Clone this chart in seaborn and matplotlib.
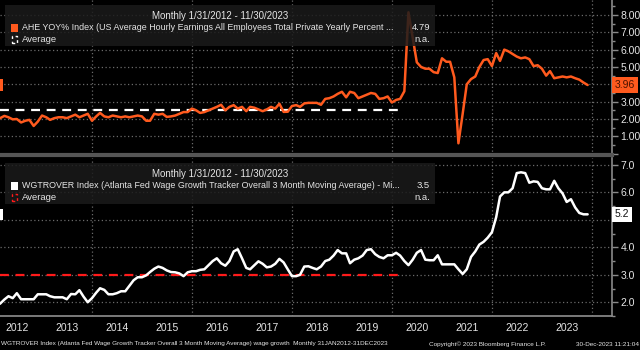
import numpy as np
import pandas as pd
import matplotlib
matplotlib.use("Agg")
import matplotlib.pyplot as plt
import matplotlib.dates as mdates
from matplotlib.patches import Rectangle
import seaborn as sns

# ---------------- data ----------------
ahe_2012 = [2.0, 2.05, 2.18, 2.1, 1.98, 2.0, 1.8, 1.9, 1.95, 1.6, 1.85, 2.2]
ahe_2013 = [2.1, 1.95, 2.05, 2.1, 2.1, 2.05, 2.15, 2.25, 2.1, 2.2, 2.3, 1.9]
ahe_2014 = [2.15, 2.35, 2.15, 2.1, 2.2, 2.15, 2.1, 2.15, 2.1, 2.15, 2.2, 2.15]
ahe_2015 = [1.9, 1.9, 2.3, 2.25, 2.3, 2.12, 2.15, 2.2, 2.3, 2.4, 2.4, 2.6]
ahe_2016 = [2.5, 2.35, 2.4, 2.5, 2.6, 2.7, 2.82, 2.5, 2.7, 2.8, 2.6, 2.7]
ahe_2017 = [2.45, 2.7, 2.65, 2.55, 2.45, 2.55, 2.7, 2.6, 2.88, 2.41, 2.42, 2.75]
ahe_2018 = [2.8, 2.7, 2.9, 2.93, 2.93, 2.93, 2.82, 3.16, 3.2, 3.3, 3.45, 3.57]
ahe_2019 = [3.25, 3.57, 3.5, 3.2, 3.3, 3.4, 3.5, 3.45, 3.16, 3.2, 3.3, 2.95]
ahe_2020 = [3.1, 3.16, 3.6, 8.15, 6.7, 5.27, 5.0, 4.9, 4.9, 4.7, 4.65, 5.5]
ahe_2021 = [5.3, 5.3, 4.4, 0.6, 2.3, 4.0, 4.3, 4.45, 5.0, 5.4, 5.45, 5.05]
ahe_2022 = [5.8, 5.35, 6.0, 5.9, 5.75, 5.6, 5.5, 5.55, 5.45, 5.05, 5.1, 4.9]
ahe_2023 = [4.5, 4.76, 4.35, 4.4, 4.45, 4.4, 4.45, 4.35, 4.27, 4.1, 3.96]

wgt_2012 = [1.9, 1.95, 2.1, 2.22, 2.15, 2.33, 2.11, 2.11, 2.11, 2.11, 2.29, 2.29]
wgt_2013 = [2.29, 2.22, 2.18, 2.18, 2.18, 2.11, 2.3, 2.29, 2.44, 2.2, 2.0, 2.15]
wgt_2014 = [2.35, 2.51, 2.45, 2.29, 2.29, 2.33, 2.4, 2.4, 2.6, 2.8, 2.91, 2.91]
wgt_2015 = [2.98, 3.1, 3.22, 3.3, 3.25, 3.16, 3.1, 3.09, 3.05, 2.95, 3.09, 3.13]
wgt_2016 = [3.13, 3.18, 3.2, 3.35, 3.5, 3.6, 3.42, 3.33, 3.5, 3.85, 3.93, 3.6]
wgt_2017 = [3.25, 3.2, 3.35, 3.49, 3.4, 3.27, 3.3, 3.4, 3.58, 3.45, 3.2, 2.95]
wgt_2018 = [2.95, 3.0, 3.3, 3.31, 3.25, 3.2, 3.3, 3.5, 3.55, 3.7, 3.9, 3.78]
wgt_2019 = [3.78, 3.42, 3.55, 3.6, 3.7, 3.9, 3.93, 3.75, 3.65, 3.6, 3.71, 3.71]
wgt_2020 = [3.8, 3.7, 3.5, 3.35, 3.55, 3.8, 3.9, 3.55, 3.53, 3.53, 3.71, 3.38]
wgt_2021 = [3.38, 3.38, 3.38, 3.2, 3.03, 3.2, 3.65, 3.85, 4.1, 4.2, 4.35, 4.55]
wgt_2022 = [5.1, 5.85, 6.0, 6.0, 6.15, 6.7, 6.73, 6.7, 6.35, 6.4, 6.38, 6.15]
wgt_2023 = [6.11, 6.11, 6.42, 6.15, 5.96, 5.65, 5.75, 5.45, 5.25, 5.2, 5.2]

ahe = sum([ahe_2012, ahe_2013, ahe_2014, ahe_2015, ahe_2016, ahe_2017,
           ahe_2018, ahe_2019, ahe_2020, ahe_2021, ahe_2022, ahe_2023], [])
wgt = sum([wgt_2012, wgt_2013, wgt_2014, wgt_2015, wgt_2016, wgt_2017,
           wgt_2018, wgt_2019, wgt_2020, wgt_2021, wgt_2022, wgt_2023], [])
dates = pd.date_range("2012-01-31", periods=len(ahe), freq="ME")

ahe_avg = 2.53
wgt_avg = 3.0
avg_end = pd.Timestamp("2020-02-29")

# tick labels hidden behind the last-value tags are left blank
ahe_ticks = [0, 1, 2, 3, 4, 5, 6, 7, 8]
ahe_ticklabels = ["", "1.00", "2.00", "3.00", "", "5.00", "6.00", "7.00", "8.00"]
wgt_ticks = [2, 3, 4, 5, 6, 7]
wgt_ticklabels = ["2.0", "3.0", "4.0", "", "6.0", "7.0"]

title_txt = "Monthly 1/31/2012 - 11/30/2023"
ahe_label = "AHE YOY% Index (US Average Hourly Earnings All Employees Total Private Yearly Percent ..."
ahe_value = "4.79"
wgt_label = "WGTROVER Index (Atlanta Fed Wage Growth Tracker Overall 3 Month Moving Average) - Mi..."
wgt_value = "3.5"
footer_left = "WGTROVER Index (Atlanta Fed Wage Growth Tracker Overall 3 Month Moving Average) wage growth  Monthly 31JAN2012-31DEC2023"
footer_mid = "Copyright\u00a9 2023 Bloomberg Finance L.P."
footer_right = "30-Dec-2023 11:21:04"

df = pd.DataFrame({"date": dates, "ahe": ahe, "wgt": wgt})

# ---------------- style ----------------
sns.set_theme(style="dark")
plt.rcParams["font.family"] = ["Liberation Sans", "DejaVu Sans"]
ORANGE = "#ff5a1e"
GRID = "#6a6a6a"
TXT = "#e6e6e6"
SPINE = "#8a8a8a"

W, H = 640, 350
fig = plt.figure(figsize=(6.4, 3.5), dpi=100, facecolor="black")

def fx(x):
    return x / W

def fy(y):
    return 1 - y / H

ax1 = fig.add_axes([0, fy(155), fx(612), 155 / H])
ax2 = fig.add_axes([0, fy(316), fx(612), 158 / H])

xmin = pd.Timestamp("2012-02-28")
xmax = pd.Timestamp("2024-05-26")

for ax in (ax1, ax2):
    ax.set_facecolor("black")
    ax.set_xlim(xmin, xmax)
    ax.yaxis.tick_right()
    ax.tick_params(axis="y", colors=SPINE, labelcolor=TXT, labelsize=7.5,
                   length=4, width=1, pad=2, direction="out")
    ax.tick_params(axis="y", which="minor", length=2.5, width=1, colors=SPINE)
    ax.yaxis.set_minor_locator(matplotlib.ticker.MultipleLocator(0.5))
    for s in ("top", "left"):
        ax.spines[s].set_visible(False)
    ax.spines["right"].set_color(SPINE)
    ax.spines["bottom"].set_color(SPINE)
    ax.spines["right"].set_linewidth(1.2)
    ax.grid(False)
    for yr in range(2014, 2025, 2):
        ax.axvline(pd.Timestamp(f"{yr}-01-01"), color=GRID, ls=(0, (1, 2)), lw=0.9, zorder=0)

# top panel
ax1.set_ylim(-0.075, 8.86)
ax1.set_yticks(ahe_ticks)
ax1.set_yticklabels(ahe_ticklabels)
for t in ahe_ticks[1:]:
    ax1.axhline(t, color=GRID, ls=(0, (1, 2)), lw=0.9, zorder=0)
ax1.tick_params(axis="x", which="both", bottom=False, labelbottom=False)
ax1.spines["bottom"].set_linewidth(3)
ax1.spines["bottom"].set_color("#555555")
sns.lineplot(data=df, x="date", y="ahe", ax=ax1, color=ORANGE, lw=1.8, zorder=3)
ax1.plot([xmin, avg_end], [ahe_avg, ahe_avg], color="white", lw=1.6,
         ls=(0, (4, 3)), zorder=2)
ax1.set_xlabel("")
ax1.set_ylabel("")

# bottom panel
ax2.set_ylim(1.50, 7.25)
ax2.set_yticks(wgt_ticks)
ax2.set_yticklabels(wgt_ticklabels)
for t in wgt_ticks:
    ax2.axhline(t, color=GRID, ls=(0, (1, 2)), lw=0.9, zorder=0)
sns.lineplot(data=df, x="date", y="wgt", ax=ax2, color="white", lw=1.8, zorder=3)
ax2.plot([xmin, avg_end], [wgt_avg, wgt_avg], color="#ff1a1a", lw=1.6,
         ls=(0, (4, 3)), zorder=2)
ax2.set_xlabel("")
ax2.set_ylabel("")
ax2.xaxis.set_major_locator(mdates.YearLocator())
ax2.xaxis.set_major_formatter(matplotlib.ticker.NullFormatter())
ax2.xaxis.set_minor_locator(mdates.MonthLocator(bymonth=7, bymonthday=1))
ax2.xaxis.set_minor_formatter(mdates.DateFormatter("%Y"))
ax2.tick_params(axis="x", which="major", length=15, width=1, colors=SPINE, direction="out")
ax2.tick_params(axis="x", which="minor", length=0, labelcolor=TXT, labelsize=7.5, pad=5)

# last-value tags
ax1.annotate(f"{ahe[-1]:.2f}", xy=(1.005, ahe[-1]), xycoords=ax1.get_yaxis_transform(),
             ha="left", va="center", fontsize=7.5, color="#4a1200", annotation_clip=False,
             bbox=dict(boxstyle="square,pad=0.25", fc=ORANGE, ec="none"), zorder=10)
ax2.annotate(f"{wgt[-1]:.1f}", xy=(1.005, wgt[-1]), xycoords=ax2.get_yaxis_transform(),
             ha="left", va="center", fontsize=7.5, color="#111111", annotation_clip=False,
             bbox=dict(boxstyle="square,pad=0.25", fc="white", ec="none"), zorder=10)
ax1.add_patch(Rectangle((0, ahe[-1] - 0.35), 0.005, 0.7, transform=ax1.get_yaxis_transform(),
                        fc=ORANGE, ec="none", clip_on=False, zorder=5))
ax2.add_patch(Rectangle((0, wgt[-1] - 0.2), 0.005, 0.4, transform=ax2.get_yaxis_transform(),
                        fc="white", ec="none", clip_on=False, zorder=5))

# legend boxes
def legend_box(top, color, avg_color, label, value):
    fig.add_artist(Rectangle((fx(5), fy(top + 41)), fx(430), 41 / H, transform=fig.transFigure,
                             fc="#1b1b1b", ec="none", alpha=0.85, zorder=5))
    fig.text(fx(220), fy(top + 11), title_txt, ha="center", va="center",
             color=TXT, fontsize=7, zorder=6)
    fig.add_artist(Rectangle((fx(11), fy(top + 27)), fx(7), 8 / H, transform=fig.transFigure,
                             fc=color, ec="none", zorder=6))
    fig.text(fx(22), fy(top + 22.5), label, ha="left", va="center", color=TXT,
             fontsize=6.4, zorder=6)
    fig.text(fx(430), fy(top + 22.5), value, ha="right", va="center", color=TXT,
             fontsize=6.8, zorder=6)
    fig.add_artist(Rectangle((fx(12), fy(top + 38)), fx(5), 7 / H, transform=fig.transFigure,
                             fc="none", ec=avg_color, lw=1, ls=(0, (2, 2)), zorder=6))
    fig.text(fx(22), fy(top + 34), "Average", ha="left", va="center", color=TXT,
             fontsize=6.8, zorder=6)
    fig.text(fx(430), fy(top + 34), "n.a.", ha="right", va="center", color=TXT,
             fontsize=6.8, zorder=6)

legend_box(5, ORANGE, "white", ahe_label, ahe_value)
legend_box(163, "white", "#ff1a1a", wgt_label, wgt_value)

# footer
fig.text(fx(1), fy(344), footer_left, ha="left", va="center", color=TXT, fontsize=4.6)
fig.text(fx(487), fy(344), footer_mid, ha="center", va="center", color=TXT, fontsize=4.6)
fig.text(fx(639), fy(344), footer_right, ha="right", va="center", color=TXT, fontsize=4.6)

fig.savefig("out.png", dpi=100, facecolor="black")
